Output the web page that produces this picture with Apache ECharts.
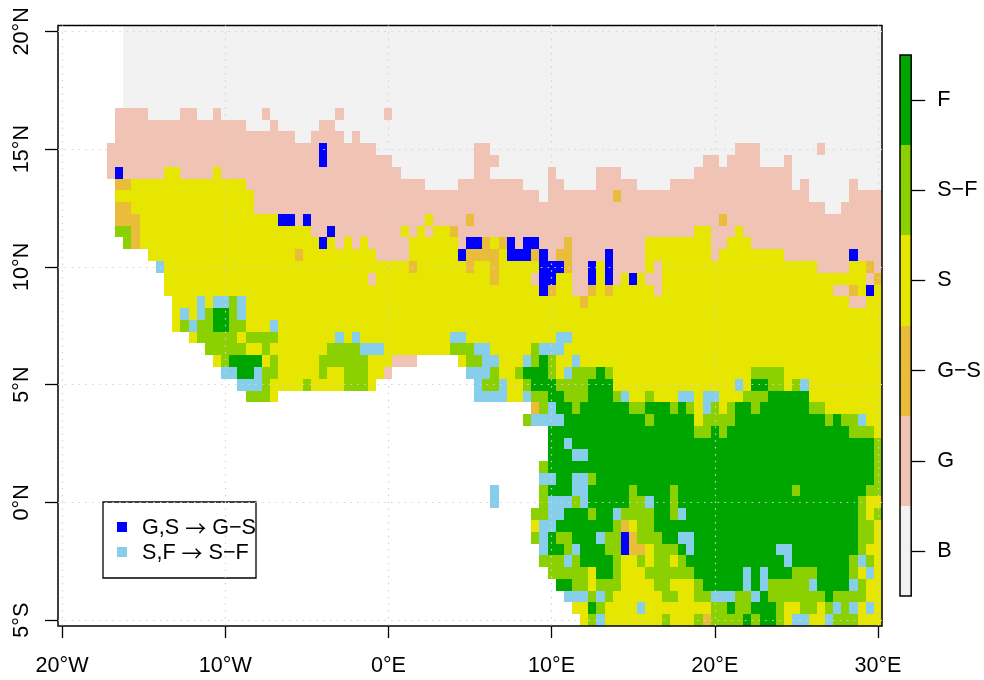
<!DOCTYPE html>
<html>
<head>
<meta charset="utf-8">
<style>html,body{margin:0;padding:0;background:#fff}#c{width:984px;height:680px}</style>
<script src="https://cdn.jsdelivr.net/npm/echarts@6/dist/echarts.min.js"></script>
</head>
<body>
<div id="c"></div>
<script>
// Regions, one run-length row per latitude from 20N (top) down to 5S, longitudes 20W..30E every 0.5 deg.
// Codes: . none, B bare, G grass, H grass-shrub, S shrub, T shrub-forest, F forest, X G,S->G-S, L S,F->S-F
const rows = [
".8 B*",".8 B*",".8 B*",".8 B*",".8 B*",".8 B*",".8 B*",
".7 G4 B4 G2 B2 G1 B5 G1 B8 G1 B5 G1 B*",
".7 G16 B3 G1 B5 G2 B*",
".7 G22 B2 G4 B1 G1 B*",
".6 G26 X1 G6 B12 G2 B30 G3 B7 G1 B*",
".6 G26 X1 G8 B10 G3 B25 G2 B1 G4 B3 G1 B*",
".6 G1 X1 G5 S2 G4 S1 G22 B9 G2 B7 G1 B5 G3 B9 G12 B*",
".7 H2 S14 G22 B4 G8 B3 G2 B4 G5 B4 G15 B1 G1 B5 G1 B*",
".7 S17 G35 B1 G8 H1 G23 B5 G*",
".7 H2 S15 G70 B2 G*",
".7 H3 S17 X2 G1 X1 G14 S1 G4 H1 G30 H1 G*",
".7 T2 H1 S21 G2 X1 G8 S1 G1 S1 G1 S2 H1 G29 S2 G3 S1 G*",
".8 T1 H1 S22 X1 S1 G1 S1 G1 S1 G5 S6 G1 X2 H1 S1 H1 X1 G1 X2 G3 H1 G9 S8 G2 S3 G*",
".11 S18 H1 S9 G4 S6 X1 H4 S1 X3 H1 X1 G1 H2 G4 X1 G4 S8 G1 S8 G8 X1 G*",
".12 L1 S30 H1 S6 H1 S2 H1 S5 X3 H1 G2 X1 S1 X1 G4 S1 G1 S19 G4 S2 H1 G1",
".13 S25 G1 S14 H1 S4 G1 X2 S2 G2 X1 S1 X1 G1 S1 X1 S1 G2 S25 G1 H1",
".13 S46 X1 H1 S2 G2 H1 S1 H1 S5 G1 S21 G2 H1 S1 X1 S1",
".14 S3 L1 S1 L2 T1 L1 S41 H1 S32 G2 S*",
".14 S1 L1 S1 L1 T1 F2 T1 L1 S*",
".14 S1 T1 L1 T2 F2 T2 S3 L1 S*",
".16 S1 T5 S1 T4 S7 L1 S1 L1 S11 L2 S11 L2 S*",
".18 T5 S2 T1 S7 T4 L3 S8 T3 L2 S5 T1 L3 S*",
".19 S1 T1 F4 S1 T1 S5 T6 S3 G3 .5 S1 T2 L2 S3 L1 T1 F1 T1 S2 L1 S*",
".20 L2 F2 L1 T2 S5 T1 S2 T3 S2 G1 .9 L3 T1 S2 T1 F3 T1 S1 L1 T3 F1 T1 S17 T4 S*",
".22 L3 T1 S4 T1 S4 T3 S1 .12 L1 T2 L1 S2 T1 F3 T4 F3 S15 L1 S1 F2 T2 S1 T1 L1 S*",
".23 T3 S1 .24 L4 S2 L1 T2 F2 T3 F3 T1 L1 S2 T1 S3 L2 S1 L2 S3 T3 F5 S*",
".58 H1 T1 L1 F2 T1 F6 T2 F3 T1 F1 T1 S1 L1 T1 S1 T1 F2 T1 F6 T2 S*",
".57 T1 L4 F10 T1 F5 S1 T4 F11 T1 F1 T2 L1 S*",
".60 F18 T2 F1 T1 F15 T3 S1",
".60 F2 L1 F37 T1",
".60 F3 L2 F35 T1",
".59 T1 F40 T1",
".59 L2 F2 L2 T1 F34 T1",
".53 L1 .5 T1 F3 L2 F5 T1 F4 T1 F14 T1 F8 T*",
".53 L1 .5 T1 L3 T1 L1 F5 T2 L1 F2 T1 F22 T1 S2",
".58 T2 L2 F3 T1 F2 L1 T4 F2 T1 L1 F21 T1 S1 T1",
".58 S1 L2 F7 T1 H1 S1 T2 F25 T2 S1",
".58 T1 L1 F1 T2 F3 L1 T2 X1 H1 T3 F2 L2 F20 T2 S1",
".59 L1 F2 T1 L1 F3 T2 X1 H2 S1 T3 F1 L1 F10 L2 F8 T1 S*",
".59 T3 L1 T1 F4 T1 S2 T1 S1 T2 S1 T1 F12 L1 F7 T1 L1 T1 S1",
".60 T5 S1 F2 T1 S3 T6 F6 L1 F1 L1 F3 T3 F4 T1 S1 L1 S1",
".61 F2 T2 S1 T3 S4 T2 S3 T1 F5 L1 F1 L1 T5 L1 F4 L1 T1 S*",
".62 L3 T1 L1 T1 S6 T2 S2 T2 L3 T2 L1 F1 T7 F1 T4 S*",
".63 S2 F1 T1 S4 L1 S8 T2 F1 T2 F3 T1 S2 T2 S1 T1 L1 T1 L1 S1 L1 S1",
".64 S1 T1 L1 S7 T1 S3 T1 H1 T4 F1 T1 F2 T1 S1 L2 S2 L1 T3 S*"
];
const lons = []; for (let i = 0; i <= 100; i++) lons.push(-20 + i / 2);
const lats = []; for (let i = 0; i <= 50; i++) lats.push(-5 + i / 2);
const lonTicks = {"-20":"20°W","-10":"10°W","0":"0°E","10":"10°E","20":"20°E","30":"30°E"};
const latTicks = {"-5":"5°S","0":"0°N","5":"5°N","10":"10°N","15":"15°N","20":"20°N"};
const barCodes = ["B","G","H","S","T","F"];
const barLabels = ["B","G","G−S","S","S−F","F"];
const colors = {B:"#F2F2F2",G:"#F0C3B5",H:"#E9BD3A",S:"#E6E600",T:"#8BD000",F:"#00A600",X:"#0000FF",L:"#87CEEB"};
const names = {B:"B",G:"G",H:"G−S",S:"S",T:"S−F",F:"F",X:"G,S → G−S",L:"S,F → S−F"};

const cells = {}; Object.keys(colors).forEach(k => cells[k] = []);
rows.forEach((row, r) => {
  let c = 0;
  row.split(" ").forEach(tok => {
    const code = tok[0];
    const n = tok[1] === "*" ? 101 - c : parseInt(tok.slice(1), 10);
    for (let i = 0; i < n && c < 101; i++, c++) {
      if (code !== ".") cells[code].push([c, 50 - r]);
    }
  });
});

// Each cell is snapped to whole pixels so that neighbours neither overlap nor leave seams.
const cellItem = (fill) => (params, api) => {
  const p = api.coord([api.value(0), api.value(1)]);
  const s = api.size([1, 1]);
  const x0 = Math.round(p[0] - s[0] / 2), x1 = Math.round(p[0] + s[0] / 2);
  const y0 = Math.round(p[1] - s[1] / 2), y1 = Math.round(p[1] + s[1] / 2);
  return {type:"rect", shape:{x:x0, y:y0, width:x1 - x0, height:y1 - y0},
          style:{fill: typeof fill === "function" ? fill(api) : fill}};
};

const font = "Liberation Sans";
const fs = 21.6;
const isX = (i) => lonTicks[lons[i]] !== undefined;
const isY = (i) => latTicks[lats[i]] !== undefined;
const dots = {show:true, alignWithLabel:true, lineStyle:{color:"#D3D3D3", width:1.2, type:[1.5,5.3]}};
const series = Object.keys(colors).map(k => ({
  type:"custom", name:names[k], xAxisIndex:0, yAxisIndex:0, data:cells[k],
  encode:{x:0, y:1}, renderItem:cellItem(colors[k]),
  itemStyle:{color:colors[k]}, silent:true, z:2
}));
series.push({
  type:"custom", xAxisIndex:1, yAxisIndex:1, silent:true, z:2, encode:{x:0, y:1},
  data: barCodes.map((k,i)=>[0,i]),
  renderItem:cellItem((api)=>colors[barCodes[api.value(1)]])
});

const chart = echarts.init(document.getElementById("c"), null, {renderer:"canvas"});
chart.setOption({
  animation:false,
  backgroundColor:"#fff",
  textStyle:{fontFamily:font},
  tooltip:{show:false},
  grid:[
    {left:58, top:25.5, width:824, height:600.5, show:true, z:10, borderColor:"#000", borderWidth:1.5, backgroundColor:"transparent"},
    {left:900, top:55, width:11.5, height:541, show:true, z:10, borderColor:"#000", borderWidth:1.5, backgroundColor:"transparent"}
  ],
  xAxis:[
    {type:"category", gridIndex:0, data:lons, z:10, boundaryGap:true,
     axisLine:{show:false},
     axisTick:{show:true, alignWithLabel:true, interval:(i)=>isX(i), length:12, lineStyle:{color:"#000",width:1.3}},
     axisLabel:{show:true, interval:(i)=>isX(i), formatter:(v)=>lonTicks[v]||"", color:"#000", fontSize:fs, fontFamily:font, margin:29, hideOverlap:false},
     splitLine:Object.assign({interval:(i)=>isX(i)},dots)},
    {type:"category", gridIndex:1, data:[""], show:false}
  ],
  yAxis:[
    {type:"category", gridIndex:0, data:lats, z:10, boundaryGap:true,
     axisLine:{show:false},
     axisTick:{show:true, alignWithLabel:true, interval:(i)=>isY(i), length:13, lineStyle:{color:"#000",width:1.3}},
     axisLabel:{show:true, interval:(i)=>isY(i), rotate:90, formatter:(v)=>latTicks[v]||"", color:"#000", fontSize:fs, fontFamily:font, margin:25, hideOverlap:false},
     splitLine:Object.assign({interval:(i)=>isY(i)},dots)},
    {type:"category", gridIndex:1, data:barLabels, position:"right", z:10, boundaryGap:true,
     axisLine:{show:false},
     axisTick:{show:true, alignWithLabel:true, length:14, lineStyle:{color:"#000",width:1.3}},
     axisLabel:{color:"#000", fontSize:fs, fontFamily:font, margin:26, padding:[8,0,0,0]},
     splitLine:{show:false}}
  ],
  legend:{
    show:true, orient:"vertical", left:103, top:502, itemWidth:10, itemHeight:10, icon:"rect",
    data:[names.X, names.L], selectedMode:false,
    formatter:(n)=>n.replace("→","{a|→}"),
    backgroundColor:"transparent", borderColor:"#000", borderWidth:1.3,
    padding:[14,0,14,14], itemGap:2,
    textStyle:{color:"#000", fontSize:fs, fontFamily:font, lineHeight:20, padding:[2,0,0,10],
      rich:{a:{fontFamily:"Noto Sans CJK SC", fontSize:21, lineHeight:20, color:"#000"}}}
  },
  series
});
</script>
</body>
</html>
